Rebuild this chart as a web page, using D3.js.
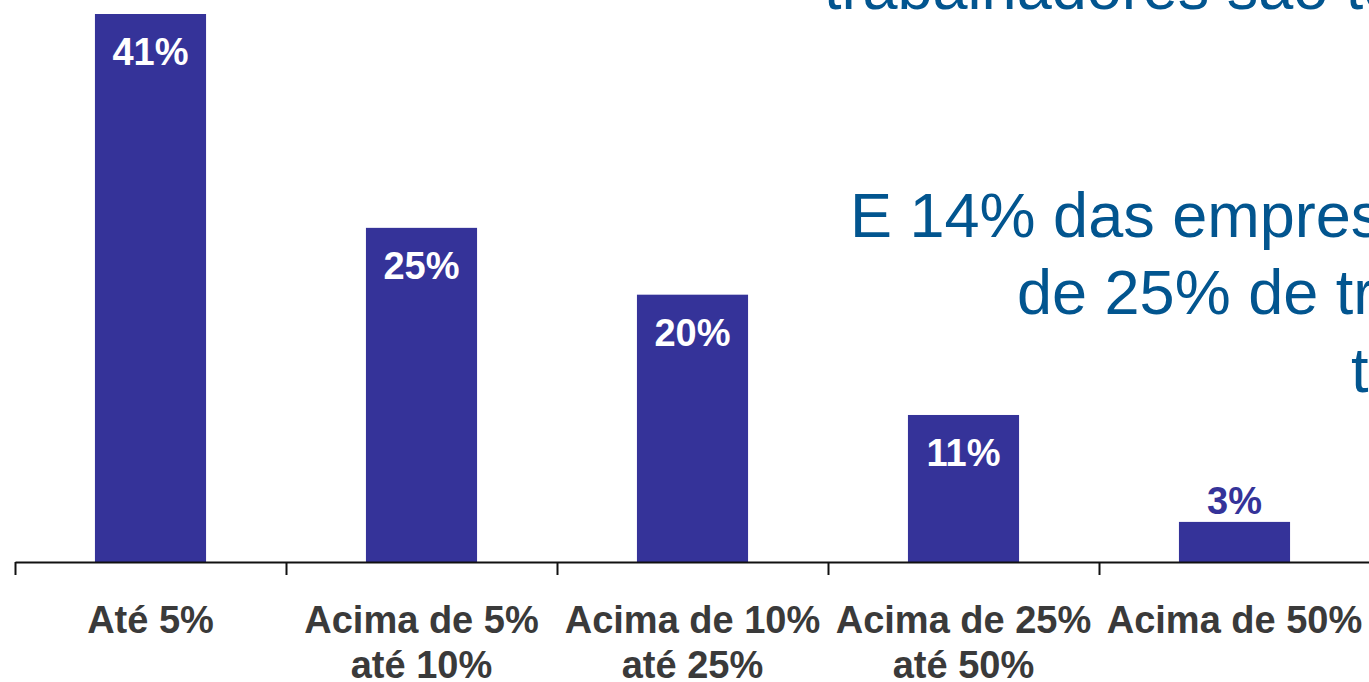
<!DOCTYPE html>
<html>
<head>
<meta charset="utf-8">
<script src="https://cdn.jsdelivr.net/npm/d3@7"></script>
<style>
  body { margin: 0; background: #fff; overflow: hidden; }
  svg { display: block; font-family: "Liberation Sans", Arial, sans-serif; }
</style>
</head>
<body>
<svg width="1369" height="682"></svg>
<script>
// chart data
var categories = ["Até 5%", "Acima de 5% até 10%", "Acima de 10% até 25%", "Acima de 25% até 50%", "Acima de 50%"];
var categoryLines = [["Até 5%"], ["Acima de 5%", "até 10%"], ["Acima de 10%", "até 25%"], ["Acima de 25%", "até 50%"], ["Acima de 50%"]];
var values = [41, 25, 20, 11, 3];
var valueLabels = ["41%", "25%", "20%", "11%", "3%"];
var noteLines = ["trabalhadores são terceirizados", "E 14% das empresas têm mais", "de 25% de trabalhadores", "terceirizados"];

var svg = d3.select("svg"),
    barColor = "#353399",
    left = 15, step = 271,
    baseY = 562, topY = 14

var xScale = d3.scaleBand()
      .domain(categories)
      .range([left, left + step * categories.length])
      .paddingInner(0.59)
      .paddingOuter(0.295),
    yScale = d3.scaleLinear().domain([0, 41]).range([baseY, topY])

// boundaries for the tick marks between the categories
var edgeScale = d3.scaleLinear().domain([0, categories.length]).range([left, left + step * categories.length])

// note text in the background (the slide crops it on the right and top)
var note = svg.append("g").attr("fill", "#02558f").attr("font-size", "63px")
note.append("text").attr("x", 824).attr("y", 9).text(noteLines[0])
note.append("text").attr("x", 850).attr("y", 237).text(noteLines[1])
note.append("text").attr("x", 1017).attr("y", 314).text(noteLines[2])
note.append("text").attr("x", 1351).attr("y", 392).text(noteLines[3])

svg.selectAll("rect.bar")
  .data(values)
  .enter()
  .append("rect")
  .attr("class", "bar")
  .attr("fill", barColor)
  .attr("x", function(d, i) { return xScale(categories[i]); })
  .attr("y", function(d) { return yScale(d); })
  .attr("width", xScale.bandwidth())
  .attr("height", function(d) { return baseY - yScale(d); })

// value labels: inside the bar when it is tall enough, above otherwise
svg.selectAll("text.val")
  .data(values)
  .enter()
  .append("text")
  .attr("class", "val")
  .attr("text-anchor", "middle")
  .attr("font-weight", "bold")
  .attr("font-size", "38px")
  .attr("x", function(d, i) { return xScale(categories[i]) + xScale.bandwidth() / 2; })
  .attr("y", function(d) { return d > 5 ? yScale(d) + 51 : yScale(d) - 8; })
  .attr("fill", function(d) { return d > 5 ? "#fff" : barColor; })
  .text(function(d, i) { return valueLabels[i]; })

// axis line with ticks at category boundaries
var axis = svg.append("g")
  .attr("transform", "translate(0," + baseY + ")")
  .call(d3.axisBottom(edgeScale).ticks(categories.length).tickSize(13).tickSizeOuter(0).tickFormat(""))
axis.select(".domain").attr("stroke", "#111").attr("stroke-width", 2.2)
axis.selectAll(".tick line").attr("stroke", "#111").attr("stroke-width", 2)

// category labels
var cat = svg.selectAll("text.cat")
  .data(categoryLines)
  .enter()
  .append("text")
  .attr("class", "cat")
  .attr("text-anchor", "middle")
  .attr("font-weight", "bold")
  .attr("font-size", "38px")
  .attr("fill", "#3a3a3a")
  .attr("x", function(d, i) { return xScale(categories[i]) + xScale.bandwidth() / 2; })
  .attr("y", 633)

cat.selectAll("tspan")
  .data(function(d) { return d; })
  .enter()
  .append("tspan")
  .attr("x", function() { return d3.select(this.parentNode).attr("x"); })
  .attr("dy", function(d, i) { return i === 0 ? 0 : 45; })
  .text(function(d) { return d; })
</script>
</body>
</html>
